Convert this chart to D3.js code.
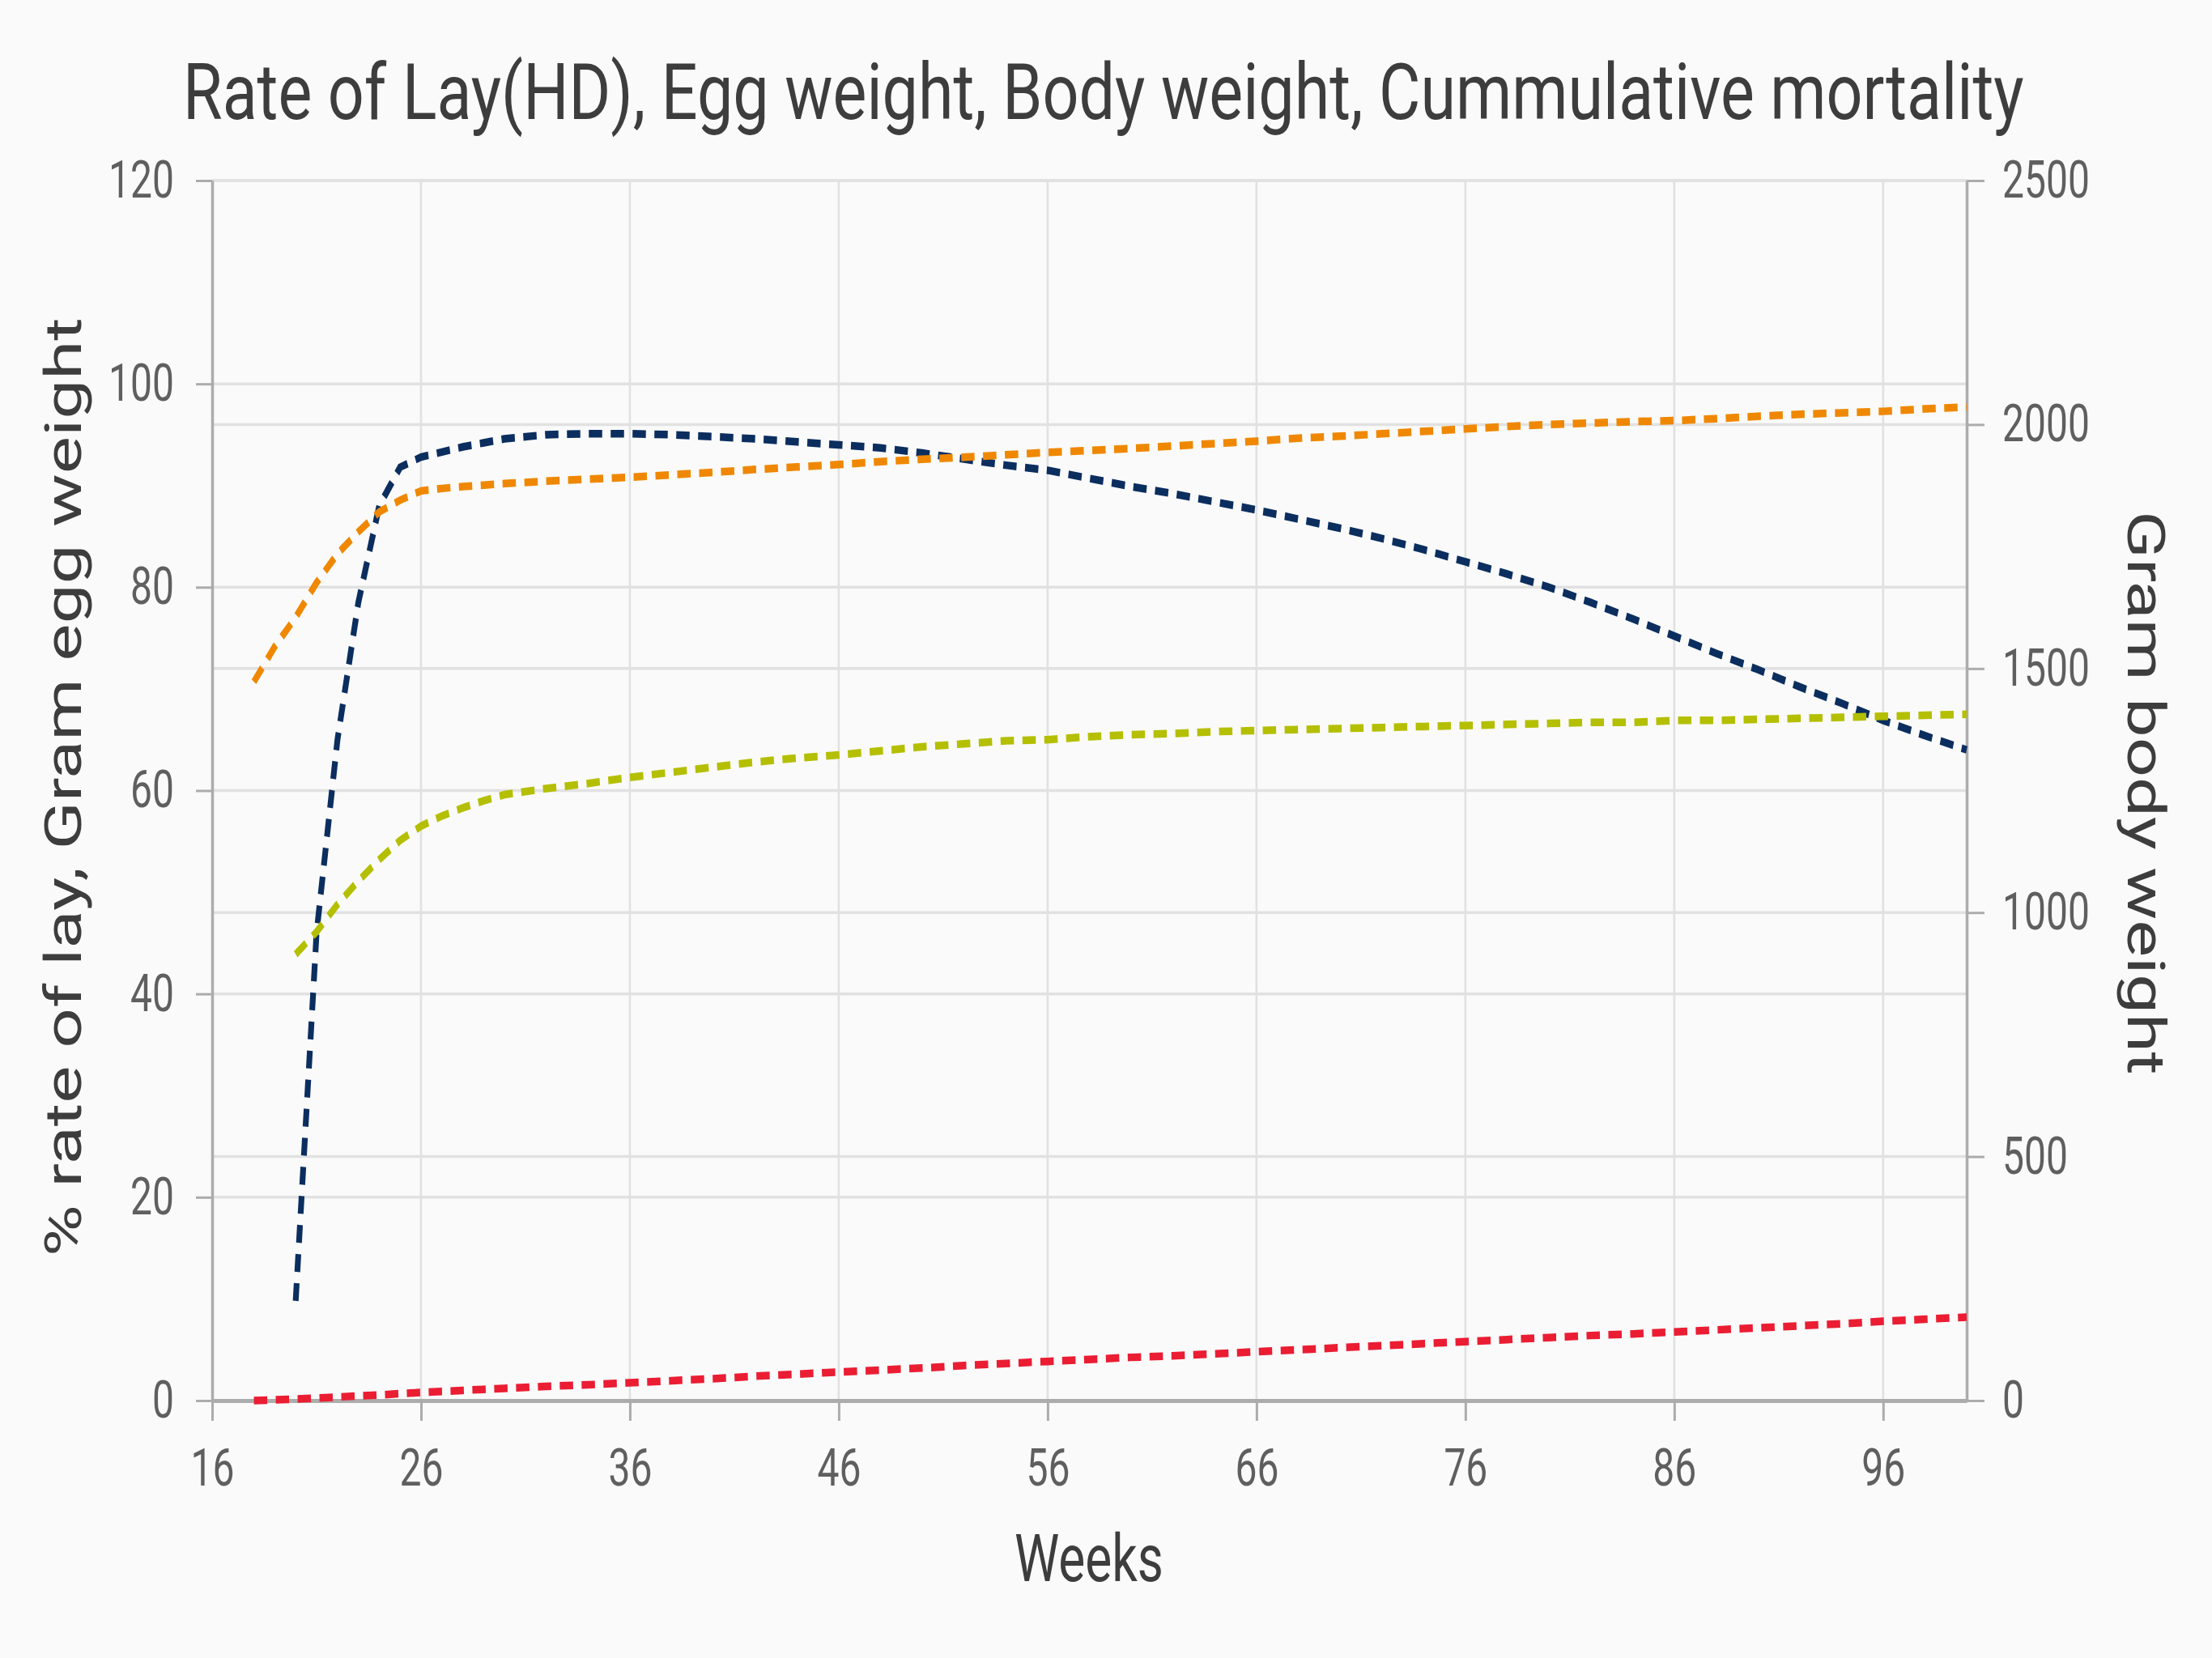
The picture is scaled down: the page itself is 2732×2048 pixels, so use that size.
<!DOCTYPE html>
<html>
<head>
<meta charset="utf-8">
<title>Rate of Lay(HD), Egg weight, Body weight, Cummulative mortality</title>
<script src="https://cdn.jsdelivr.net/npm/d3@7"></script>
<style>
  html, body { margin: 0; padding: 0; background: #fafafa; }
  #chart { width: 2732px; height: 2048px; }
</style>
</head>
<body>
<div id="chart"></div>
<script>
// Values (weeks of age)
const weeks = [18, 19, 20, 21, 22, 23, 24, 25, 26, 27, 28, 29, 30,
  32, 34, 36, 38, 40, 42, 44, 46, 48, 50, 52, 54, 56, 58, 60, 62, 64, 66,
  68, 70, 72, 74, 76, 78, 80, 82, 84, 86, 88, 90, 92, 94, 96, 98, 100];

// % rate of lay (hen day), left axis
const rateOfLay = [null, null, 9.8, 46, 65, 78.5, 88, 91.8, 92.8, 93.3, 93.8, 94.2, 94.6,
  95.0, 95.1, 95.1, 95.0, 94.8, 94.6, 94.3, 94.0, 93.7, 93.2, 92.6, 92.0, 91.5, 90.7, 89.9, 89.2, 88.4, 87.6,
  86.7, 85.8, 84.8, 83.7, 82.5, 81.3, 80.0, 78.5, 76.9, 75.2, 73.5, 71.9, 70.2, 68.6, 66.9, 65.4, 64.0];

// gram body weight, right axis
const bodyWeight = [1473, 1545, 1605, 1676, 1735, 1780, 1821, 1845, 1864, 1869, 1873, 1876, 1879,
  1884, 1888, 1892, 1897, 1902, 1908, 1913, 1918, 1924, 1929, 1933, 1938, 1943, 1947, 1951, 1956, 1961, 1966,
  1972, 1976, 1981, 1986, 1991, 1996, 2000, 2003, 2006, 2008, 2012, 2017, 2021, 2024, 2027, 2032, 2036];

// gram egg weight, left axis
const eggWeight = [null, null, 43.9, 46.1, 48.8, 51.1, 53.2, 55.1, 56.5, 57.5, 58.3, 59.0, 59.6,
  60.2, 60.7, 61.3, 61.8, 62.3, 62.8, 63.2, 63.5, 63.9, 64.3, 64.6, 64.9, 65.0, 65.3, 65.5, 65.6, 65.8, 65.9,
  66.0, 66.1, 66.2, 66.3, 66.4, 66.5, 66.6, 66.7, 66.7, 66.9, 66.9, 67.0, 67.1, 67.2, 67.3, 67.4, 67.5];

// % cumulative mortality, left axis
const mortality = [0, 0.07, 0.15, 0.25, 0.35, 0.45, 0.55, 0.68, 0.8, 0.9, 1.0, 1.1, 1.2,
  1.4, 1.55, 1.75, 1.95, 2.15, 2.4, 2.6, 2.8, 3.0, 3.2, 3.45, 3.65, 3.85, 4.05, 4.25, 4.4, 4.6, 4.8,
  5.0, 5.2, 5.4, 5.6, 5.8, 6.0, 6.2, 6.4, 6.55, 6.75, 6.95, 7.15, 7.35, 7.55, 7.8, 8.0, 8.2];

const weekTicks = [16, 26, 36, 46, 56, 66, 76, 86, 96];
const leftTicks = [0, 20, 40, 60, 80, 100, 120];
const rightTicks = [0, 500, 1000, 1500, 2000, 2500];

const series = [
  { name: 'Rate of lay', values: rateOfLay, axis: 'left', color: '#0b2e5f' },
  { name: 'Body weight', values: bodyWeight, axis: 'right', color: '#ef8800' },
  { name: 'Egg weight', values: eggWeight, axis: 'left', color: '#b4bf00' },
  { name: 'Mortality', values: mortality, axis: 'left', color: '#ea1d33' }
];

const W = 2732, H = 2048;
const plot = { left: 262, right: 2429, top: 223, bottom: 1730 };
// the reference is drawn narrower than it is tall
const squeeze = 0.75;
const font = 'Roboto, "Noto Sans", sans-serif';

const svg = d3.select('#chart').append('svg')
  .attr('width', W)
  .attr('height', H);

svg.append('rect').attr('width', W).attr('height', H).attr('fill', '#fafafa');

const x = d3.scaleLinear().domain([16, 100]).range([plot.left, plot.right]);
const yLeft = d3.scaleLinear().domain([0, 120]).range([plot.bottom, plot.top]);
const yRight = d3.scaleLinear().domain([0, 2500]).range([plot.bottom, plot.top]);

// Grid
const grid = svg.append('g').attr('stroke', '#e1e1e1');
grid.selectAll('line.v').data(weekTicks.slice(1)).join('line')
  .attr('class', 'v')
  .attr('x1', d => x(d)).attr('x2', d => x(d))
  .attr('y1', plot.top).attr('y2', plot.bottom)
  .attr('stroke-width', 2.6);
grid.selectAll('line.hl').data(leftTicks.slice(1)).join('line')
  .attr('class', 'hl')
  .attr('x1', plot.left).attr('x2', plot.right)
  .attr('y1', d => yLeft(d)).attr('y2', d => yLeft(d))
  .attr('stroke-width', 3.5);
grid.selectAll('line.hr').data(rightTicks.slice(1)).join('line')
  .attr('class', 'hr')
  .attr('x1', plot.left).attr('x2', plot.right)
  .attr('y1', d => yRight(d)).attr('y2', d => yRight(d))
  .attr('stroke-width', 3.5);

// Axes
function styleAxis(g, width) {
  g.attr('font-family', font).attr('font-size', 64);
  g.select('.domain').attr('stroke', '#acacac').attr('stroke-width', width);
  g.selectAll('.tick line').attr('stroke', '#acacac').attr('stroke-width', 3);
  g.selectAll('.tick text').attr('fill', '#5f5f5f');
}

const xAxis = svg.append('g')
  .attr('transform', `translate(0,${plot.bottom})`)
  .call(d3.axisBottom(x).tickValues(weekTicks).tickSize(25).tickSizeOuter(0));
styleAxis(xAxis, 5);
xAxis.selectAll('.tick text')
  .attr('y', 105).attr('dy', null)
  .attr('transform', `scale(${squeeze},1)`);

const leftAxis = svg.append('g')
  .attr('transform', `translate(${plot.left},0)`)
  .call(d3.axisLeft(yLeft).tickValues(leftTicks).tickSize(20).tickSizeOuter(0));
styleAxis(leftAxis, 3.5);
leftAxis.selectAll('.tick text')
  .attr('x', -47 / squeeze)
  .attr('transform', `scale(${squeeze},1)`);

const rightAxis = svg.append('g')
  .attr('transform', `translate(${plot.right},0)`)
  .call(d3.axisRight(yRight).tickValues(rightTicks).tickFormat(d3.format('d'))
    .tickSize(22).tickSizeOuter(0));
styleAxis(rightAxis, 3.5);
rightAxis.selectAll('.tick text')
  .attr('x', 44 / squeeze)
  .attr('transform', `scale(${squeeze},1)`);

// Lines: drawn in unsqueezed space, so dashes shrink only along x
const lines = svg.append('g').attr('transform', `scale(${squeeze},1)`);
series.forEach(s => {
  const y = s.axis === 'right' ? yRight : yLeft;
  const line = d3.line()
    .defined(d => d[1] != null)
    .x(d => x(d[0]) / squeeze)
    .y(d => y(d[1]));
  lines.append('path')
    .datum(d3.zip(weeks, s.values))
    .attr('d', line)
    .attr('fill', 'none')
    .attr('stroke', s.color)
    .attr('stroke-width', 9.5)
    .attr('stroke-dasharray', '22 14');
});

// Texts: stretched along the baseline to the reference length, squeezed across it
function label(text, size, length, place, angle) {
  const t = svg.append('text')
    .attr('font-family', font).attr('font-size', size)
    .attr('fill', '#3d3d3d')
    .text(text);
  const k = length / t.node().getComputedTextLength();
  const sy = angle ? squeeze : 1;
  const sx = angle ? k : k;
  t.attr('transform', `translate(${place[0]},${place[1]}) rotate(${angle}) scale(${sx},${sy})`);
  return t;
}

label('Rate of Lay(HD), Egg weight, Body weight, Cummulative mortality', 96, 2274, [226, 147], 0);
label('Weeks', 82, 184, [1253, 1953], 0);
label('% rate of lay, Gram egg weight', 84, 1160, [100, 1552], -90);
label('Gram body weight', 86, 697, [2628, 631], 90);
</script>
</body>
</html>
